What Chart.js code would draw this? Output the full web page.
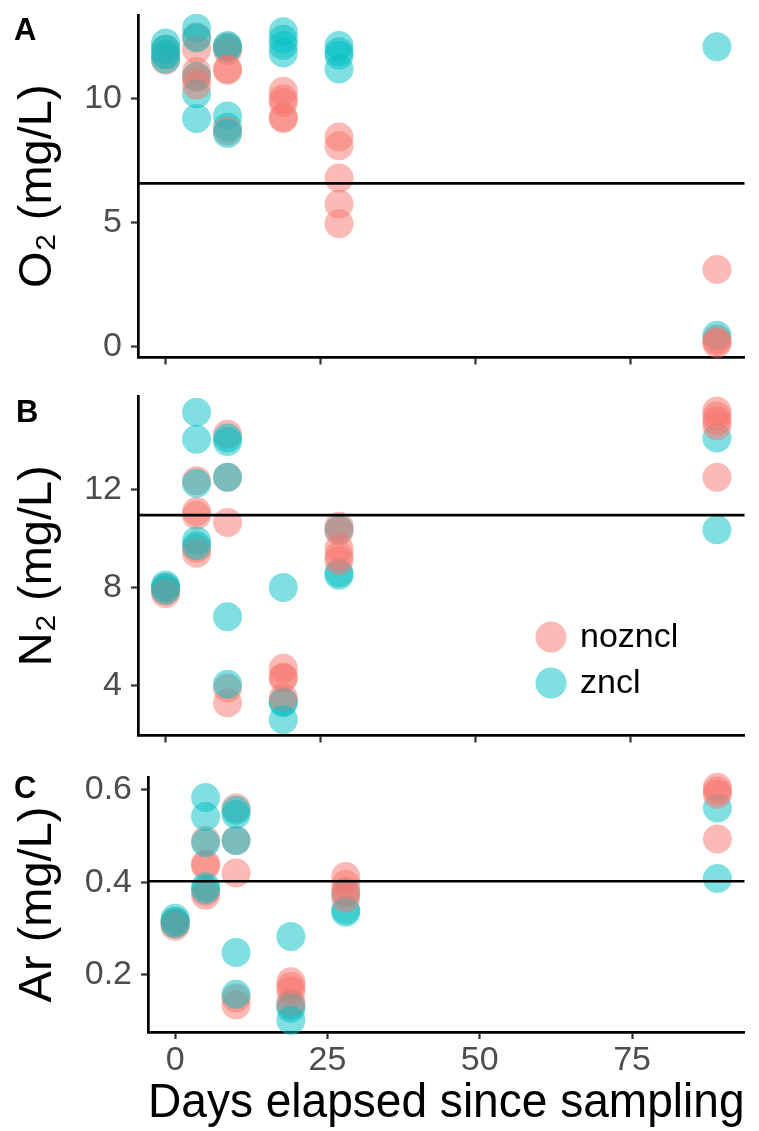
<!DOCTYPE html>
<html>
<head>
<meta charset="utf-8">
<script src="https://cdn.jsdelivr.net/npm/chart.js@4.4.1/dist/chart.umd.min.js"></script>
<style>
  html, body { margin: 0; padding: 0; background: #fff; }
  #fig { position: relative; width: 759px; height: 1131px; font-family: 'Liberation Sans', Arial, sans-serif; }
  #fig canvas { position: absolute; left: 0; }
  .tag { position: absolute; font-weight: bold; font-size: 31px; line-height: 31px; color: #000; }
</style>
</head>
<body>
<div id="fig">
  <canvas id="panel-a" width="759" height="372" style="top:0px"></canvas>
  <canvas id="panel-b" width="759" height="370" style="top:380px"></canvas>
  <canvas id="panel-c" width="759" height="371" style="top:760px"></canvas>
  <div class="tag" style="left:14px;top:14px">A</div>
  <div class="tag" style="left:16px;top:396px">B</div>
  <div class="tag" style="left:14px;top:772px">C</div>
</div>
<script>
// ===== DATA =====
const sampleDays = [0, 5, 10, 19, 28, 89];
const groups = ['nozncl', 'zncl'];
const groupColors = ['rgba(248,118,109,0.5)', 'rgba(0,191,196,0.5)'];
const xTicks = [0, 25, 50, 75];
const xRange = [-4.45, 93.45];

// O2 (mg/L), one list per sampling day
const o2Nozncl = [
    [12.0, 11.75, 11.55],
    [12.5, 12.0, 11.1, 10.85, 10.55],
    [12.1, 11.95, 11.2, 11.15, 8.7],
    [10.3, 10.0, 9.85, 9.25, 9.2],
    [8.45, 8.1, 6.8, 5.75, 4.95],
    [3.1, 0.3, 0.2, 0.12]
];
const o2Zncl = [
    [12.25, 12.0, 11.8, 11.6],
    [12.85, 12.45, 10.9, 10.2, 9.2],
    [12.15, 12.05, 9.3, 8.85, 8.6],
    [12.7, 12.4, 12.15, 11.85],
    [12.15, 11.9, 11.75, 11.2],
    [12.1, 0.45]
];
const o2Ticks = [0, 5, 10];
const o2Range = [-0.45, 13.38];
const o2Ref = 6.58;

// N2 (mg/L)
const n2Nozncl = [
    [8.0, 7.85, 7.75],
    [12.35, 11.1, 10.95, 9.6, 9.4],
    [14.25, 12.5, 10.65, 3.9, 3.3],
    [4.7, 4.35, 4.3, 3.5],
    [10.5, 10.3, 9.6, 9.3, 9.1],
    [15.2, 15.0, 14.8, 14.6, 12.5]
];
const n2Zncl = [
    [8.1, 8.0, 7.9],
    [15.15, 14.05, 12.25, 9.9, 9.7],
    [14.1, 13.95, 12.5, 6.8, 4.05],
    [8.0, 3.35, 3.3, 2.6],
    [10.35, 8.6, 8.5],
    [14.1, 10.35]
];
const n2Ticks = [4, 8, 12];
const n2Range = [1.96, 15.81];
const n2Ref = 10.95;

// Ar (mg/L)
const arNozncl = [
    [0.315, 0.31, 0.305],
    [0.49, 0.44, 0.435, 0.38, 0.372],
    [0.56, 0.49, 0.42, 0.15, 0.135],
    [0.185, 0.175, 0.165, 0.14],
    [0.412, 0.395, 0.38, 0.366],
    [0.605, 0.597, 0.59, 0.493]
];
const arZncl = [
    [0.322, 0.315, 0.31],
    [0.583, 0.542, 0.485, 0.39, 0.384],
    [0.555, 0.546, 0.49, 0.248, 0.158],
    [0.283, 0.135, 0.128, 0.102],
    [0.376, 0.34, 0.335],
    [0.56, 0.408]
];
const arTicks = [0.2, 0.4, 0.6];
const arRange = [0.0766, 0.627];
const arRef = 0.402;

// ===== HELPERS =====
Chart.defaults.font.family = "'Liberation Sans', Arial, sans-serif";

// k-th replicate of every sampling day (if it exists)
function replicate(perDay, k) {
    const pts = [];
    perDay.forEach((vals, i) => { if (k < vals.length) pts.push({ x: sampleDays[i], y: vals[k] }); });
    return pts;
}

// interleave the two treatments replicate by replicate, so overlaps blend like the original
function buildDatasets(nozncl, zncl) {
    const maxRep = Math.max(...nozncl.concat(zncl).map(v => v.length));
    const sets = [];
    for (let k = 0; k < maxRep; k++) {
        [nozncl, zncl].forEach((src, g) => {
            sets.push({
                label: groups[g],
                data: replicate(src, k),
                backgroundColor: groupColors[g],
                pointBackgroundColor: groupColors[g],
                pointBorderWidth: 0,
                pointRadius: 14.5,
                pointHoverRadius: 14.5
            });
        });
    }
    // later entries on top
    sets.forEach((d, i) => { d.order = sets.length - i; });
    return sets;
}

// horizontal reference line, drawn over the points
const refLine = {
    id: 'refLine',
    afterDatasetsDraw(chart, args, opts) {
        const { ctx, chartArea: a, scales: { y } } = chart;
        const py = y.getPixelForValue(opts.value);
        ctx.save();
        ctx.strokeStyle = '#000';
        ctx.lineWidth = 2.7;
        ctx.beginPath();
        ctx.moveTo(a.left, py);
        ctx.lineTo(a.right, py);
        ctx.stroke();
        ctx.restore();
    }
};

// point legend sitting inside panel B
const pointLegend = {
    id: 'pointLegend',
    afterDraw(chart, args, opts) {
        if (!opts.show) return;
        const { ctx } = chart;
        ctx.save();
        groups.forEach((g, i) => {
            const cy = opts.y + i * opts.gap;
            ctx.fillStyle = groupColors[i];
            ctx.beginPath();
            ctx.arc(opts.x, cy, opts.r, 0, Math.PI * 2);
            ctx.fill();
            ctx.fillStyle = '#000';
            ctx.font = "34px 'Liberation Sans', Arial, sans-serif";
            ctx.textBaseline = 'middle';
            ctx.fillText(g, opts.x + 29, cy + 1);
        });
        ctx.restore();
    }
};

const tickGrid = { drawOnChartArea: false, drawTicks: true, tickLength: 7, tickWidth: 2.2, tickColor: '#333333' };
const axisBorder = { display: true, color: '#000', width: 2.7 };
const tickFont = { size: 34, lineHeight: 1.2 };

function makePanel(canvasId, cfg) {
    const ctx = document.getElementById(canvasId).getContext('2d');
    return new Chart(ctx, {
        type: 'scatter',
        data: { datasets: buildDatasets(cfg.nozncl, cfg.zncl) },
        options: {
            responsive: false,
            animation: false,
            events: [],
            clip: false,
            layout: { padding: { top: cfg.top, right: 14, bottom: 0, left: 0 } },
            plugins: {
                legend: { display: false },
                tooltip: { enabled: false },
                refLine: { value: cfg.ref },
                pointLegend: cfg.legend || { show: false }
            },
            scales: {
                x: {
                    type: 'linear',
                    min: xRange[0], max: xRange[1],
                    afterBuildTicks: s => { s.ticks = xTicks.map(v => ({ value: v })); },
                    afterFit: s => { s.height = cfg.xHeight; s.paddingLeft = 0; s.paddingRight = 0; },
                    grid: tickGrid,
                    border: axisBorder,
                    ticks: {
                        autoSkip: false, maxRotation: 0, padding: 1,
                        font: tickFont, color: '#4D4D4D',
                        callback: v => cfg.xTitle ? String(v) : ''
                    },
                    title: {
                        display: !!cfg.xTitle,
                        text: cfg.xTitle || '',
                        color: '#000',
                        font: { size: 48, lineHeight: 1 },
                        padding: { top: 0, bottom: 3 }
                    }
                },
                y: {
                    type: 'linear',
                    min: cfg.range[0], max: cfg.range[1],
                    afterBuildTicks: s => { s.ticks = cfg.ticks.map(v => ({ value: v })); },
                    afterFit: s => { s.width = cfg.yWidth; s.paddingTop = 0; s.paddingBottom = 0; },
                    grid: tickGrid,
                    border: axisBorder,
                    ticks: {
                        autoSkip: false, padding: 9,
                        font: tickFont, color: '#4D4D4D',
                        callback: v => cfg.digits ? v.toFixed(cfg.digits) : String(v)
                    },
                    title: {
                        display: true,
                        text: cfg.yTitle,
                        color: '#000',
                        font: { size: 47, lineHeight: 1 },
                        padding: { top: 15, bottom: 0 }
                    }
                }
            }
        },
        plugins: [refLine, pointLegend]
    });
}

// ===== PANELS =====
makePanel('panel-a', {
    nozncl: o2Nozncl, zncl: o2Zncl, ticks: o2Ticks, range: o2Range, ref: o2Ref,
    yTitle: 'O\u2082 (mg/L)', top: 15, xHeight: 13, yWidth: 138
});
makePanel('panel-b', {
    nozncl: n2Nozncl, zncl: n2Zncl, ticks: n2Ticks, range: n2Range, ref: n2Ref,
    yTitle: 'N\u2082 (mg/L)', top: 16, xHeight: 10, yWidth: 138,
    legend: { show: true, x: 551, y: 257, gap: 46, r: 15.5 }
});
makePanel('panel-c', {
    nozncl: arNozncl, zncl: arZncl, ticks: arTicks, range: arRange, ref: arRef, digits: 1,
    yTitle: 'Ar (mg/L)', xTitle: 'Days elapsed since sampling', top: 17, xHeight: 99, yWidth: 148
});
</script>
</body>
</html>
